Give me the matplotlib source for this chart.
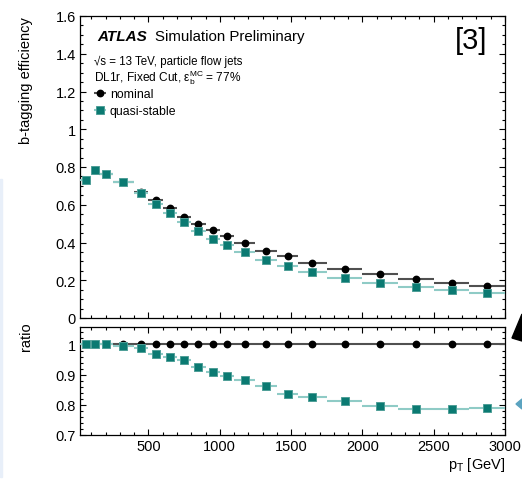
import numpy as np
import matplotlib
matplotlib.use("Agg")
import matplotlib.pyplot as plt
from matplotlib.ticker import MultipleLocator, FixedLocator, FuncFormatter
from matplotlib.patches import Polygon, Rectangle

plt.rcParams['font.family'] = ['Liberation Sans', 'DejaVu Sans']
plt.rcParams['mathtext.default'] = 'regular'

# pT bins [GeV]
bin_edges = [20, 100, 150, 250, 400, 500, 600, 700, 800, 900, 1000, 1100,
             1250, 1400, 1550, 1750, 2000, 2250, 2500, 2750, 3000]

# b-tagging efficiency
eff_nominal = [0.732, 0.786, 0.763, 0.722, 0.669, 0.626, 0.581, 0.537, 0.500,
               0.464, 0.432, 0.396, 0.357, 0.327, 0.293, 0.260, 0.231, 0.206,
               0.187, 0.171]
eff_quasi = [0.732, 0.786, 0.763, 0.718, 0.661, 0.603, 0.555, 0.508, 0.462,
             0.420, 0.388, 0.348, 0.309, 0.274, 0.242, 0.210, 0.183, 0.162,
             0.146, 0.133]

# ratio to nominal
ratio_nominal = [1.0] * 20
ratio_quasi = [1.0, 1.0, 1.0, 0.995, 0.988, 0.969, 0.958, 0.947, 0.925, 0.909,
               0.896, 0.881, 0.862, 0.837, 0.825, 0.812, 0.796, 0.787, 0.787,
               0.790]

edges = np.array(bin_edges, dtype=float)
centers = 0.5 * (edges[1:] + edges[:-1])
halfw = 0.5 * (edges[1:] - edges[:-1])

W, H = 522, 481
fig = plt.figure(figsize=(W / 100, H / 100), dpi=100)


def fx(px):
    return px / W


def fy(py):
    return 1 - py / H


ax1 = fig.add_axes([fx(80), fy(319), fx(505) - fx(80), fy(17) - fy(319)])
ax2 = fig.add_axes([fx(80), fy(436), fx(505) - fx(80), fy(328) - fy(436)])

teal = '#0b7a72'
teal_light = '#8fcbc6'
nom_err = '#505050'

for ax, nom, qs in [(ax1, eff_nominal, eff_quasi), (ax2, ratio_nominal, ratio_quasi)]:
    h1 = ax.errorbar(centers, nom, xerr=halfw, fmt='o', color='black', ecolor=nom_err,
                     elinewidth=1.5, ms=4.6, capsize=0, zorder=3, label='nominal')
    h2 = ax.errorbar(centers, qs, xerr=halfw, fmt='s', color=teal, mec='#4f9f98', mew=0.7,
                     ecolor=teal_light, elinewidth=1.5, ms=5.3, capsize=0, zorder=4,
                     label='quasi-stable')
    ax.set_xlim(20, 3000)
    ax.xaxis.set_major_locator(MultipleLocator(500))
    ax.xaxis.set_minor_locator(MultipleLocator(100))
    ax.tick_params(which='both', direction='in', top=True, right=True, width=0.8,
                   labelsize=10.5, pad=3)
    ax.tick_params(which='major', length=4.5)
    ax.tick_params(which='minor', length=2.3)
    for s in ax.spines.values():
        s.set_linewidth(0.9)
    if ax is ax1:
        handles = [h1, h2]

fmt = FuncFormatter(lambda v, p: '%g' % round(v, 3))

ax1.set_ylim(0, 1.6)
ax1.yaxis.set_major_locator(MultipleLocator(0.2))
ax1.yaxis.set_minor_locator(MultipleLocator(0.05))
ax1.yaxis.set_major_formatter(fmt)
ax1.tick_params(labelbottom=False)

ax2.set_ylim(0.7, 1.058)
ax2.yaxis.set_major_locator(FixedLocator([0.7, 0.8, 0.9, 1.0]))
ax2.yaxis.set_minor_locator(MultipleLocator(0.02))
ax2.yaxis.set_major_formatter(fmt)
ax2.xaxis.set_major_formatter(FuncFormatter(lambda v, p: '%d' % v))

ax1.set_ylabel('b-tagging efficiency', fontsize=10.5, loc='top')
ax1.yaxis.set_label_coords(-0.11, 1.0)
ax2.set_ylabel('ratio', fontsize=10.5, loc='top')
ax2.yaxis.set_label_coords(-0.11, 1.05)
ax2.set_xlabel('p$_T$ [GeV]', fontsize=10.5, loc='right', labelpad=1)

# labels
fig.text(fx(97), fy(37), 'ATLAS', fontsize=11, fontweight='bold', fontstyle='italic',
         va='center', ha='left')
fig.text(fx(155), fy(37), 'Simulation Preliminary', fontsize=10.8, va='center', ha='left')
fig.text(fx(94), fy(62), '√s = 13 TeV, particle flow jets', fontsize=8.3, va='center', ha='left')
fig.text(fx(94), fy(78), 'DL1r, Fixed Cut, ε$_b^{MC}$ = 77%', fontsize=8.6, va='center', ha='left')
fig.text(fx(487), fy(41), '[3]', fontsize=21, va='center', ha='right')

ax1.legend(handles=handles, loc='upper left', bbox_to_anchor=(fx(95), fy(89)),
           bbox_transform=fig.transFigure, frameon=False, fontsize=8.8,
           handlelength=0.8, handletextpad=0.4, borderpad=0, borderaxespad=0,
           labelspacing=0.45)

# slide decorations at the image edges
fig.patches.append(Polygon([(fx(512), fy(339)), (fx(522), fy(315)), (fx(522), fy(342))],
                           closed=True, color='black', transform=fig.transFigure))
fig.patches.append(Polygon([(fx(516), fy(405)), (fx(522), fy(400)), (fx(522), fy(410))],
                           closed=True, color='#5ba3c0', transform=fig.transFigure))
fig.patches.append(Rectangle((0, fy(478)), fx(2), fy(180) - fy(478), color='#e8eff9',
                             transform=fig.transFigure))

fig.savefig('out.png', dpi=100)
